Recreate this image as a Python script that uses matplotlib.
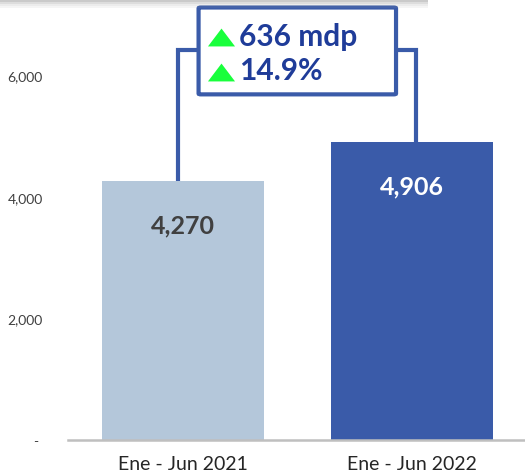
import matplotlib.pyplot as plt
from matplotlib.patches import FancyBboxPatch, Rectangle

# datos
categorias = ['Ene - Jun 2021', 'Ene - Jun 2022']
valores = [4270, 4906]
etiquetas_valor = ['4,270', '4,906']
colores = ['#B4C7DA', '#3A5BA9']
colores_texto = ['#404040', 'white']
yticks = [0, 2000, 4000, 6000]
ytick_labels = ['- ', '2,000', '4,000', '6,000']
variacion_mdp = '636 mdp'
variacion_pct = '14.9%'

azul = '#3A5BA9'
azul_texto = '#1F3C99'
verde = '#19FF3C'
fuente = ['Lato', 'DejaVu Sans']

plt.rcParams['font.family'] = fuente

fig = plt.figure(figsize=(5.25, 4.77), dpi=100)
ax = fig.add_axes([68/525, 36/477, 457/525, 441/477])

x = list(range(len(categorias)))
ax.bar(x, valores, width=0.71, color=colores, zorder=2)
for i, v in enumerate(valores):
    ax.text(i, v - 730, etiquetas_valor[i], ha='center', va='center',
            fontsize=18, fontweight='bold', color=colores_texto[i], zorder=3)

ax.set_xlim(-0.502, 1.493)
ax.set_ylim(0, 7260)
ax.set_xticks(x)
ax.set_xticklabels(categorias, fontsize=14, color='#262626')
ax.set_yticks(yticks)
ax.set_yticklabels(ytick_labels, fontsize=10, color='#404040')
ax.tick_params(axis='both', length=0)
ax.tick_params(axis='y', pad=18)
ax.tick_params(axis='x', pad=11)
for s in ['top', 'right', 'left']:
    ax.spines[s].set_visible(False)
ax.spines['bottom'].set_color('#BFBFBF')
ax.spines['bottom'].set_linewidth(1.8)

# corchete de variacion
y_corchete = 6420
xl, xr = -0.022, 1.017
ax.plot([xl, xl, 0.07], [valores[0], y_corchete, y_corchete], color=azul,
        lw=3, solid_capstyle='butt', solid_joinstyle='miter', zorder=4)
ax.plot([0.92, xr, xr], [y_corchete, y_corchete, valores[1]], color=azul,
        lw=3, solid_capstyle='butt', solid_joinstyle='miter', zorder=4)

caja = FancyBboxPatch((0.068, 5690), 0.862, 1430,
                      boxstyle='round,pad=0,rounding_size=0.01',
                      fc='white', ec=azul, lw=3, zorder=5,
                      mutation_aspect=1400)
ax.add_patch(caja)

triangulo = [(-1, -0.66), (1, -0.66), (0, 0.66)]
for y, txt in [(6650, variacion_mdp), (6085, variacion_pct)]:
    ax.plot([0.166], [y - 20], marker=triangulo, markersize=19.5, color=verde,
            markeredgewidth=0, zorder=6)
    ax.text(0.245, y, txt, ha='left', va='center', fontsize=21.5,
            fontweight='bold', color=azul_texto, zorder=6)

# sombra superior
for k, a in enumerate([0.55, 0.35, 0.2, 0.1]):
    fig.add_artist(Rectangle((0, 1 - (3 + 2*k)/477), 428/525, 2/477,
                             transform=fig.transFigure, color='#A0A0A0',
                             alpha=a, lw=0))

fig.savefig('out.png', dpi=100)
